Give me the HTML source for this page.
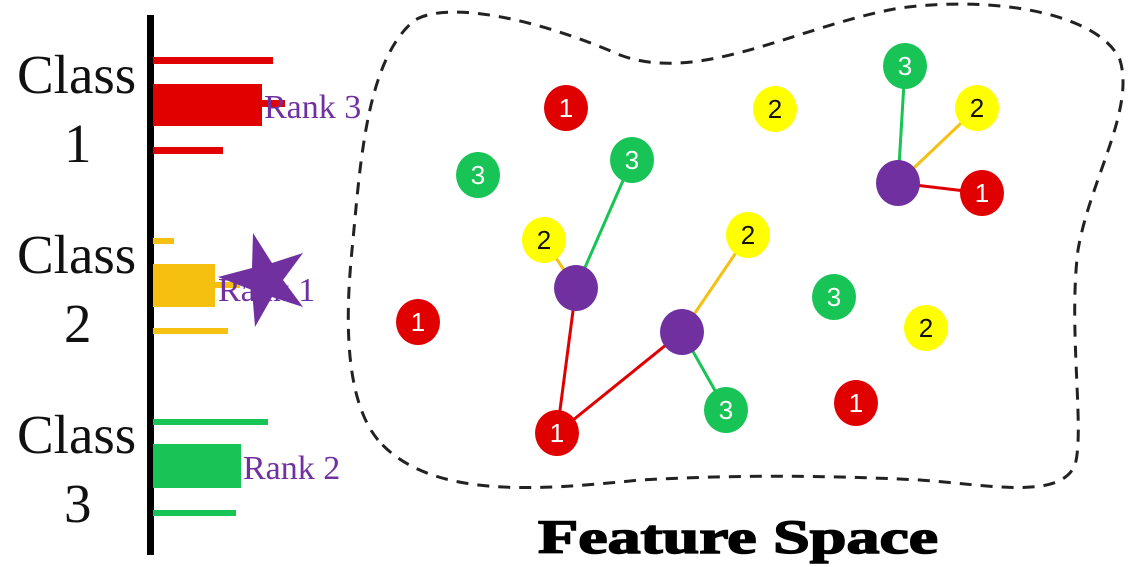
<!DOCTYPE html>
<html><head><meta charset="utf-8"><style>
html,body{margin:0;padding:0;background:#fff;}
svg{display:block}
</style></head><body>
<svg width="1132" height="567" viewBox="0 0 1132 567" xmlns="http://www.w3.org/2000/svg">
<rect width="1132" height="567" fill="#fff"/>
<rect x="147" y="15" width="7" height="540" fill="#000"/>
<g font-family="Liberation Serif, serif" font-size="55" fill="#111">
<text x="17" y="93">Class</text><text x="64" y="162">1</text>
<text x="17" y="273">Class</text><text x="64" y="342">2</text>
<text x="17" y="453">Class</text><text x="64" y="522">3</text>
</g>
<rect x="153" y="57" width="120" height="7" fill="#e00000"/>
<rect x="153" y="84" width="109" height="42" fill="#e00000"/>
<rect x="153" y="100" width="132" height="7" fill="#e00000"/>
<rect x="153" y="147" width="70" height="7" fill="#e00000"/>
<rect x="153" y="238" width="21" height="6" fill="#f5c010"/>
<rect x="153" y="264" width="62" height="43" fill="#f5c010"/>
<rect x="153" y="282" width="87" height="6" fill="#f5c010"/>
<rect x="153" y="328" width="75" height="6" fill="#f5c010"/>
<rect x="153" y="419" width="115" height="6" fill="#17c455"/>
<rect x="153" y="444" width="88" height="44" fill="#17c455"/>
<rect x="153" y="510" width="83" height="6" fill="#17c455"/>
<g font-family="Liberation Serif, serif" font-size="34" fill="#7030a0">
<text x="264" y="118">Rank 3</text>
<text x="218" y="301">Rank 1</text>
<text x="243" y="479">Rank 2</text>
</g>
<polygon points="253,233 272,263 303,253 283,280 303,307 272,297 255,327 252,290 218,277 252,268" fill="#7030a0"/>
<path d="M378,440 C345,400 345,320 352,250 C360,170 365,60 415,20 C450,0 540,20 620,55 C700,85 800,25 900,8 C1000,-5 1100,15 1120,60 C1135,110 1090,180 1078,250 C1068,330 1085,430 1075,465 C1060,500 990,485 920,480 C820,475 730,475 640,480 C540,490 430,500 378,440 Z" fill="none" stroke="#222" stroke-width="3" stroke-dasharray="12,9"/>
<g stroke-width="3">
<line x1="576" y1="288" x2="632" y2="160" stroke="#17c455"/>
<line x1="576" y1="288" x2="544" y2="240" stroke="#f5c010"/>
<line x1="576" y1="288" x2="557" y2="433" stroke="#e00000"/>
<line x1="682" y1="332" x2="748" y2="235" stroke="#f5c010"/>
<line x1="682" y1="332" x2="557" y2="433" stroke="#e00000"/>
<line x1="682" y1="332" x2="726" y2="410" stroke="#17c455"/>
<line x1="898" y1="183" x2="905" y2="66" stroke="#17c455"/>
<line x1="898" y1="183" x2="977" y2="108" stroke="#f5c010"/>
<line x1="898" y1="183" x2="982" y2="193" stroke="#e00000"/>
</g>
<g font-family="Liberation Sans, sans-serif" font-size="26" text-anchor="middle">
<g fill="#e00000">
<ellipse cx="566" cy="108" rx="22" ry="23"/><ellipse cx="418" cy="322" rx="22" ry="23"/>
<ellipse cx="557" cy="433" rx="22" ry="23"/><ellipse cx="856" cy="403" rx="22" ry="23"/>
<ellipse cx="982" cy="193" rx="22" ry="23"/>
</g>
<g fill="#ffff00">
<ellipse cx="775" cy="109" rx="22" ry="23"/><ellipse cx="544" cy="240" rx="22" ry="23"/>
<ellipse cx="748" cy="235" rx="22" ry="23"/><ellipse cx="977" cy="108" rx="22" ry="23"/>
<ellipse cx="926" cy="328" rx="22" ry="23"/>
</g>
<g fill="#17c455">
<ellipse cx="478" cy="175" rx="22" ry="23"/><ellipse cx="632" cy="160" rx="22" ry="23"/>
<ellipse cx="905" cy="66" rx="22" ry="23"/><ellipse cx="834" cy="297" rx="22" ry="23"/>
<ellipse cx="726" cy="410" rx="22" ry="23"/>
</g>
<g fill="#7030a0">
<ellipse cx="576" cy="288" rx="22" ry="23"/><ellipse cx="682" cy="332" rx="22" ry="23"/>
<ellipse cx="898" cy="183" rx="22" ry="23"/>
</g>
<g fill="#fff">
<text x="566" y="117">1</text><text x="418" y="331">1</text><text x="557" y="442">1</text>
<text x="856" y="412">1</text><text x="982" y="202">1</text>
<text x="478" y="184">3</text><text x="632" y="169">3</text><text x="905" y="75">3</text>
<text x="834" y="306">3</text><text x="726" y="419">3</text>
</g>
<g fill="#111">
<text x="775" y="118">2</text><text x="544" y="249">2</text><text x="748" y="244">2</text>
<text x="977" y="117">2</text><text x="926" y="337">2</text>
</g>
</g>
<text x="738" y="553" text-anchor="middle" font-family="Liberation Serif, serif" font-weight="bold" font-size="48" fill="#000" stroke="#000" stroke-width="1.5" textLength="400" lengthAdjust="spacingAndGlyphs">Feature Space</text>
</svg>
</body></html>
